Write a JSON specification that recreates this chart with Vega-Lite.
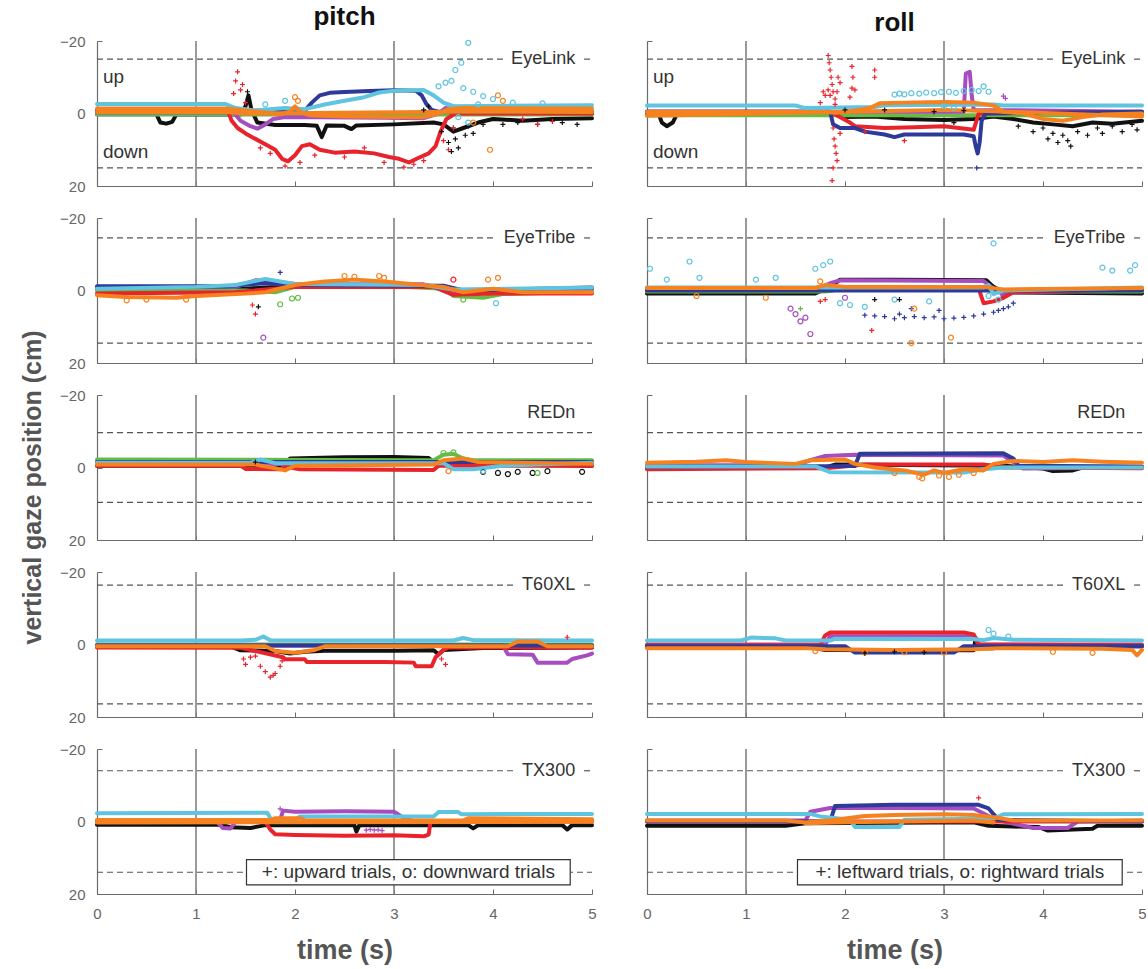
{
"$schema":"https://vega.github.io/schema/vega-lite/v6.json",
"padding":{"left":20,"top":4,"right":0,"bottom":5},
"columns":2,
"spacing":{"row":32,"column":55},
"bounds":"flush",
"align":"each",
"config":{"font":"Liberation Sans","view":{"stroke":null},
"axis":{"grid":false,"domainColor":"#6b6b6b","domainWidth":1.2,"tickColor":"#6b6b6b","tickSize":-5,"tickWidth":1,"labelColor":"#666","labelFont":"Liberation Sans","labelFontSize":15,"labelPadding":17,"labelFlush":false,"titleFont":"Liberation Sans","titleFontWeight":"bold","titleColor":"#555"},
"title":{"font":"Liberation Sans","fontSize":26,"fontWeight":"bold","color":"#111","offset":0}},
"concat":[
{"title":"pitch","width":495,"height":145,
"data":{"values":[
{"s":1,"t":0,"y":0.2},{"s":1,"t":0.6,"y":0.2},{"s":1,"t":0.64,"y":2.5},{"s":1,"t":0.7,"y":2.8},{"s":1,"t":0.76,"y":2.3},{"s":1,"t":0.8,"y":0.3},{"s":1,"t":1.45,"y":0.3},{"s":1,"t":1.5,"y":-2},{"s":1,"t":1.53,"y":-5},{"s":1,"t":1.56,"y":-1},{"s":1,"t":1.62,"y":2.5},{"s":1,"t":1.8,"y":3.2},{"s":1,"t":2.1,"y":3.2},{"s":1,"t":2.22,"y":3.4},{"s":1,"t":2.27,"y":6.5},{"s":1,"t":2.32,"y":3.3},{"s":1,"t":2.5,"y":3.4},{"s":1,"t":2.57,"y":4.3},{"s":1,"t":2.62,"y":3.3},{"s":1,"t":3,"y":3},{"s":1,"t":3.4,"y":2.5},{"s":1,"t":3.5,"y":3},{"s":1,"t":3.6,"y":5},{"s":1,"t":3.7,"y":4},{"s":1,"t":3.85,"y":2.5},{"s":1,"t":4,"y":1.5},{"s":1,"t":4.3,"y":2},{"s":1,"t":4.6,"y":1.5},{"s":1,"t":5,"y":1.3},
{"s":2,"t":0,"y":0.3},{"s":2,"t":5,"y":0.3},
{"s":3,"t":0,"y":-0.3},{"s":3,"t":1.38,"y":-0.3},{"s":3,"t":1.45,"y":2},{"s":3,"t":1.55,"y":3.5},{"s":3,"t":1.62,"y":4.2},{"s":3,"t":1.7,"y":3},{"s":3,"t":1.78,"y":1.5},{"s":3,"t":1.9,"y":1},{"s":3,"t":2.9,"y":1.2},{"s":3,"t":3.3,"y":1.3},{"s":3,"t":3.45,"y":0},{"s":3,"t":3.52,"y":-1.5},{"s":3,"t":3.6,"y":-1.2},{"s":3,"t":3.7,"y":-0.3},{"s":3,"t":5,"y":-0.3},
{"s":4,"t":0,"y":-0.8},{"s":4,"t":1.32,"y":-0.8},{"s":4,"t":1.36,"y":2},{"s":4,"t":1.42,"y":4},{"s":4,"t":1.5,"y":5.5},{"s":4,"t":1.6,"y":7},{"s":4,"t":1.7,"y":8.5},{"s":4,"t":1.8,"y":10},{"s":4,"t":1.87,"y":12.5},{"s":4,"t":1.93,"y":13.2},{"s":4,"t":2,"y":11.5},{"s":4,"t":2.07,"y":9},{"s":4,"t":2.15,"y":8.5},{"s":4,"t":2.25,"y":10},{"s":4,"t":2.4,"y":10.8},{"s":4,"t":2.6,"y":10.5},{"s":4,"t":2.8,"y":11},{"s":4,"t":2.95,"y":12},{"s":4,"t":3.05,"y":12.5},{"s":4,"t":3.15,"y":13.5},{"s":4,"t":3.25,"y":12.2},{"s":4,"t":3.35,"y":11},{"s":4,"t":3.42,"y":9},{"s":4,"t":3.47,"y":5},{"s":4,"t":3.53,"y":1.5},{"s":4,"t":3.62,"y":0},{"s":4,"t":5,"y":0},
{"s":5,"t":0,"y":-0.5},{"s":5,"t":2.1,"y":-0.8},{"s":5,"t":2.17,"y":-3},{"s":5,"t":2.25,"y":-5},{"s":5,"t":2.35,"y":-5.7},{"s":5,"t":2.5,"y":-5.9},{"s":5,"t":2.75,"y":-6.2},{"s":5,"t":3,"y":-6.4},{"s":5,"t":3.22,"y":-6.3},{"s":5,"t":3.28,"y":-5},{"s":5,"t":3.33,"y":-2.5},{"s":5,"t":3.38,"y":-1},{"s":5,"t":3.45,"y":-0.5},{"s":5,"t":5,"y":-0.5},
{"s":6,"t":0,"y":-2.6},{"s":6,"t":1.3,"y":-2.6},{"s":6,"t":1.4,"y":-1.5},{"s":6,"t":1.6,"y":-0.8},{"s":6,"t":1.9,"y":-1.5},{"s":6,"t":2.1,"y":-1.2},{"s":6,"t":2.3,"y":-2.5},{"s":6,"t":2.5,"y":-3.5},{"s":6,"t":2.7,"y":-4.5},{"s":6,"t":2.85,"y":-5.8},{"s":6,"t":3,"y":-6.3},{"s":6,"t":3.3,"y":-6.5},{"s":6,"t":3.4,"y":-5},{"s":6,"t":3.5,"y":-3},{"s":6,"t":3.6,"y":-2},{"s":6,"t":5,"y":-2.3},
{"s":7,"t":0,"y":-1.4},{"s":7,"t":1.3,"y":-1.4},{"s":7,"t":1.5,"y":-0.8},{"s":7,"t":1.7,"y":-0.3},{"s":7,"t":1.85,"y":0.2},{"s":7,"t":1.95,"y":-0.5},{"s":7,"t":2,"y":-2},{"s":7,"t":2.05,"y":-0.5},{"s":7,"t":2.15,"y":0.5},{"s":7,"t":2.5,"y":0.8},{"s":7,"t":3,"y":1},{"s":7,"t":3.3,"y":1},{"s":7,"t":3.45,"y":0},{"s":7,"t":3.55,"y":-1.2},{"s":7,"t":3.7,"y":-1.5},{"s":7,"t":5,"y":-1.4},
{"s":7,"g":"b","t":0,"y":-0.4},{"s":7,"g":"b","t":1.3,"y":-0.4},{"s":7,"g":"b","t":1.5,"y":0},{"s":7,"g":"b","t":3.6,"y":-0.5},{"s":7,"g":"b","t":5,"y":-0.4},
{"s":1,"t":3.55,"y":8,"m":"p"},{"s":1,"t":3.58,"y":10.5,"m":"p"},{"s":1,"t":3.62,"y":7,"m":"p"},{"s":1,"t":3.65,"y":9.5,"m":"p"},{"s":1,"t":3.6,"y":4,"m":"p"},{"s":1,"t":3.72,"y":6,"m":"p"},{"s":1,"t":3.75,"y":3.5,"m":"p"},{"s":1,"t":3.48,"y":5,"m":"p"},{"s":1,"t":3.8,"y":5.5,"m":"p"},{"s":1,"t":3.9,"y":3,"m":"p"},{"s":1,"t":4.1,"y":3,"m":"p"},{"s":1,"t":4.25,"y":2.5,"m":"p"},{"s":1,"t":4.45,"y":3,"m":"p"},{"s":1,"t":4.7,"y":2.5,"m":"p"},{"s":1,"t":4.85,"y":3,"m":"p"},{"s":1,"t":3.3,"y":-1,"m":"p"},{"s":1,"t":3.35,"y":-2,"m":"p"},{"s":1,"t":1.52,"y":-6,"m":"p"},
{"s":4,"t":1.38,"y":-5.5,"m":"p"},{"s":4,"t":1.4,"y":-9,"m":"p"},{"s":4,"t":1.42,"y":-11.5,"m":"p"},{"s":4,"t":1.45,"y":-6.5,"m":"p"},{"s":4,"t":1.47,"y":-8,"m":"p"},{"s":4,"t":1.5,"y":-3,"m":"p"},{"s":4,"t":1.65,"y":9.5,"m":"p"},{"s":4,"t":1.75,"y":11,"m":"p"},{"s":4,"t":1.9,"y":14.5,"m":"p"},{"s":4,"t":2.05,"y":13.5,"m":"p"},{"s":4,"t":2.2,"y":11.5,"m":"p"},{"s":4,"t":2.5,"y":12,"m":"p"},{"s":4,"t":2.7,"y":9.5,"m":"p"},{"s":4,"t":2.9,"y":13.5,"m":"p"},{"s":4,"t":3.1,"y":14.8,"m":"p"},{"s":4,"t":3.2,"y":14,"m":"p"},{"s":4,"t":3.3,"y":13,"m":"p"},{"s":4,"t":3.5,"y":7.5,"m":"p"},{"s":4,"t":3.55,"y":10,"m":"p"},{"s":4,"t":3.6,"y":4,"m":"p"},{"s":4,"t":4.3,"y":1.5,"m":"p"},{"s":4,"t":4.45,"y":3,"m":"p"},{"s":4,"t":4.6,"y":2.2,"m":"p"},
{"s":6,"t":3.75,"y":-19.5,"m":"o"},{"s":6,"t":3.68,"y":-14,"m":"o"},{"s":6,"t":3.62,"y":-12,"m":"o"},{"s":6,"t":3.58,"y":-9,"m":"o"},{"s":6,"t":3.52,"y":-8.5,"m":"o"},{"s":6,"t":3.7,"y":-7,"m":"o"},{"s":6,"t":3.8,"y":-6,"m":"o"},{"s":6,"t":3.9,"y":-4.8,"m":"o"},{"s":6,"t":4,"y":-4,"m":"o"},{"s":6,"t":3.45,"y":-7.5,"m":"o"},{"s":6,"t":1.7,"y":-2.5,"m":"o"},{"s":6,"t":1.9,"y":-3.5,"m":"o"},{"s":6,"t":3.85,"y":-2.5,"m":"o"},{"s":6,"t":4.2,"y":-3,"m":"o"},{"s":6,"t":4.5,"y":-2.8,"m":"o"},{"s":6,"t":3.65,"y":1,"m":"o"},{"s":6,"t":3.75,"y":2.5,"m":"o"},
{"s":7,"t":2,"y":-4.5,"m":"o"},{"s":7,"t":2.03,"y":-3.5,"m":"o"},{"s":7,"t":3.97,"y":10,"m":"o"},{"s":7,"t":4.05,"y":-5,"m":"o"},{"s":7,"t":4.1,"y":-3.5,"m":"o"},{"s":7,"t":3.8,"y":2.5,"m":"o"}
]},
"layer":[
{"data":{"values":[{"t":1},{"t":3}]},"mark":{"type":"rule","color":"#808080","strokeWidth":1.6},"encoding":{"x":{"field":"t","type":"quantitative","scale":{"domain":[0,5],"nice":false,"zero":false},"axis":{"values":[0,1,2,3,4,5],"labels":false,"title":null}}}},
{"data":{"values":[{"t":0,"t2":4.1,"y":-15},{"t":4.92,"t2":5,"y":-15},{"t":0,"t2":5,"y":15}]},"mark":{"type":"rule","color":"#555","strokeWidth":1.2,"strokeDash":[6,4]},"encoding":{"x":{"field":"t","type":"quantitative"},"x2":{"field":"t2"},"y":{"field":"y","type":"quantitative","scale":{"domain":[-20,20],"reverse":true,"nice":false,"zero":false},"axis":{"values":[-20,0,20],"title":null}}}},
{"transform":[{"filter":"!datum.m"}],"mark":{"type":"line","strokeWidth":4,"strokeCap":"round","strokeJoin":"round"},"encoding":{"x":{"field":"t","type":"quantitative"},"y":{"field":"y","type":"quantitative"},"color":{"field":"s","type":"nominal","scale":{"domain":[1,2,3,4,5,6,7],"range":["#111111","#66bb44","#a64dbf","#e8232b","#2e3a9a","#5ec4e0","#f5821f"]},"legend":null},"detail":{"field":"g"}}},
{"transform":[{"filter":"datum.m"}],"mark":{"type":"point","filled":false,"size":25,"strokeWidth":1.2,"opacity":1},"encoding":{"x":{"field":"t","type":"quantitative"},"y":{"field":"y","type":"quantitative"},"color":{"field":"s","type":"nominal","scale":{"domain":[1,2,3,4,5,6,7],"range":["#111111","#66bb44","#a64dbf","#e8232b","#2e3a9a","#5ec4e0","#f5821f"]},"legend":null},"shape":{"field":"m","type":"nominal","scale":{"domain":["p","o"],"range":["M-1,0L1,0M0,-1L0,1","circle"]},"legend":null}}},
{"data":{"values":[{}]},"mark":{"type":"text","align":"right","baseline":"middle","fontSize":18,"color":"#333"},"encoding":{"x":{"datum":4.83},"y":{"datum":-15},"text":{"value":"EyeLink"}}},
{"data":{"values":[{}]},"mark":{"type":"text","align":"left","baseline":"middle","fontSize":19,"color":"#333"},"encoding":{"x":{"datum":0.06},"y":{"datum":-10},"text":{"value":"up"}}},
{"data":{"values":[{}]},"mark":{"type":"text","align":"left","baseline":"middle","fontSize":19,"color":"#333"},"encoding":{"x":{"datum":0.06},"y":{"datum":10.5},"text":{"value":"down"}}}
]},
{"title":"roll","width":495,"height":145,
"data":{"values":[
{"s":1,"t":0,"y":0.3},{"s":1,"t":0.12,"y":0.3},{"s":1,"t":0.15,"y":2.5},{"s":1,"t":0.2,"y":3.5},{"s":1,"t":0.26,"y":2.5},{"s":1,"t":0.3,"y":0.3},{"s":1,"t":1.9,"y":0.3},{"s":1,"t":2,"y":1},{"s":1,"t":2.3,"y":0.8},{"s":1,"t":2.6,"y":1.5},{"s":1,"t":3,"y":1.8},{"s":1,"t":3.3,"y":1.5},{"s":1,"t":3.5,"y":0.8},{"s":1,"t":3.7,"y":1.5},{"s":1,"t":3.9,"y":2.5},{"s":1,"t":4.1,"y":3},{"s":1,"t":4.3,"y":3.5},{"s":1,"t":4.5,"y":2.5},{"s":1,"t":4.7,"y":2.8},{"s":1,"t":5,"y":2},
{"s":2,"t":0,"y":0.5},{"s":2,"t":5,"y":0.5},
{"s":3,"t":0,"y":-0.5},{"s":3,"t":3.2,"y":-0.5},{"s":3,"t":3.22,"y":-11},{"s":3,"t":3.26,"y":-11.5},{"s":3,"t":3.28,"y":-5},{"s":3,"t":3.3,"y":-1},{"s":3,"t":5,"y":-0.5},
{"s":4,"t":0,"y":-0.5},{"s":4,"t":1.85,"y":-0.5},{"s":4,"t":2.05,"y":2.5},{"s":4,"t":2.1,"y":3.5},{"s":4,"t":2.4,"y":4},{"s":4,"t":2.7,"y":3.8},{"s":4,"t":3,"y":3.5},{"s":4,"t":3.3,"y":4.5},{"s":4,"t":3.35,"y":0},{"s":4,"t":5,"y":-0.5},
{"s":5,"t":0,"y":-0.5},{"s":5,"t":1.85,"y":-0.5},{"s":5,"t":1.88,"y":3},{"s":5,"t":1.95,"y":4},{"s":5,"t":2.1,"y":4},{"s":5,"t":2.2,"y":5},{"s":5,"t":2.4,"y":5.8},{"s":5,"t":2.5,"y":6.5},{"s":5,"t":2.6,"y":5.8},{"s":5,"t":2.9,"y":5.8},{"s":5,"t":3.2,"y":5.8},{"s":5,"t":3.3,"y":6.3},{"s":5,"t":3.32,"y":9},{"s":5,"t":3.34,"y":11},{"s":5,"t":3.36,"y":8},{"s":5,"t":3.38,"y":2},{"s":5,"t":3.42,"y":0},{"s":5,"t":5,"y":-0.5},
{"s":6,"t":0,"y":-2.2},{"s":6,"t":1.5,"y":-2.2},{"s":6,"t":1.6,"y":-1.5},{"s":6,"t":2.3,"y":-1.8},{"s":6,"t":2.4,"y":-2.3},{"s":6,"t":3.5,"y":-2.5},{"s":6,"t":3.6,"y":-2.2},{"s":6,"t":5,"y":-2.2},
{"s":7,"t":0,"y":-0.4},{"s":7,"t":1.8,"y":-0.4},{"s":7,"t":1.9,"y":-0.2},{"s":7,"t":2.1,"y":-0.8},{"s":7,"t":2.25,"y":-1.5},{"s":7,"t":2.35,"y":-2.8},{"s":7,"t":2.6,"y":-3},{"s":7,"t":3,"y":-3.2},{"s":7,"t":3.3,"y":-3},{"s":7,"t":3.5,"y":-2.2},{"s":7,"t":3.6,"y":-0.5},{"s":7,"t":3.8,"y":0},{"s":7,"t":4,"y":1.5},{"s":7,"t":4.2,"y":2},{"s":7,"t":4.4,"y":1},{"s":7,"t":4.6,"y":0.3},{"s":7,"t":5,"y":0},
{"s":7,"g":"b","t":0,"y":0.6},{"s":7,"g":"b","t":2.3,"y":-0.6},{"s":7,"g":"b","t":3,"y":-1},{"s":7,"g":"b","t":3.5,"y":-0.6},{"s":7,"g":"b","t":5,"y":0.8},
{"s":1,"t":3.75,"y":3.5,"m":"p"},{"s":1,"t":3.9,"y":5,"m":"p"},{"s":1,"t":4,"y":4,"m":"p"},{"s":1,"t":4.05,"y":7,"m":"p"},{"s":1,"t":4.1,"y":5.5,"m":"p"},{"s":1,"t":4.15,"y":8,"m":"p"},{"s":1,"t":4.2,"y":6,"m":"p"},{"s":1,"t":4.25,"y":7.5,"m":"p"},{"s":1,"t":4.28,"y":9,"m":"p"},{"s":1,"t":4.35,"y":5,"m":"p"},{"s":1,"t":4.45,"y":6,"m":"p"},{"s":1,"t":4.55,"y":4,"m":"p"},{"s":1,"t":4.6,"y":5.5,"m":"p"},{"s":1,"t":4.7,"y":3.5,"m":"p"},{"s":1,"t":4.8,"y":5,"m":"p"},{"s":1,"t":4.9,"y":3,"m":"p"},{"s":1,"t":4.95,"y":4.5,"m":"p"},{"s":1,"t":2,"y":-1,"m":"p"},{"s":1,"t":2.4,"y":-1,"m":"p"},{"s":1,"t":2.9,"y":-0.5,"m":"p"},{"s":1,"t":3.1,"y":2.5,"m":"p"},{"s":1,"t":3.2,"y":-0.8,"m":"p"},
{"s":3,"t":3.6,"y":-4.8,"m":"p"},{"s":3,"t":3.62,"y":-4.2,"m":"p"},
{"s":4,"t":1.83,"y":-16,"m":"p"},{"s":4,"t":1.84,"y":-14,"m":"p"},{"s":4,"t":1.85,"y":-12,"m":"p"},{"s":4,"t":1.86,"y":-10,"m":"p"},{"s":4,"t":1.87,"y":-8,"m":"p"},{"s":4,"t":1.88,"y":-6,"m":"p"},{"s":4,"t":1.85,"y":-5,"m":"p"},{"s":4,"t":1.83,"y":-6.5,"m":"p"},{"s":4,"t":1.9,"y":-4,"m":"p"},{"s":4,"t":1.92,"y":-6,"m":"p"},{"s":4,"t":1.95,"y":-8.5,"m":"p"},{"s":4,"t":1.93,"y":-10,"m":"p"},{"s":4,"t":1.88,"y":4,"m":"p"},{"s":4,"t":1.89,"y":7,"m":"p"},{"s":4,"t":1.9,"y":9,"m":"p"},{"s":4,"t":1.91,"y":11,"m":"p"},{"s":4,"t":1.92,"y":13,"m":"p"},{"s":4,"t":1.88,"y":15,"m":"p"},{"s":4,"t":1.87,"y":18.5,"m":"p"},{"s":4,"t":1.95,"y":5.5,"m":"p"},{"s":4,"t":1.8,"y":-5,"m":"p"},{"s":4,"t":1.75,"y":-3,"m":"p"},{"s":4,"t":1.78,"y":-6,"m":"p"},{"s":4,"t":2.07,"y":-13,"m":"p"},{"s":4,"t":2.08,"y":-10,"m":"p"},{"s":4,"t":2.07,"y":-7,"m":"p"},{"s":4,"t":2.1,"y":-6.5,"m":"p"},{"s":4,"t":2.05,"y":-4.5,"m":"p"},{"s":4,"t":2.3,"y":-12,"m":"p"},{"s":4,"t":2.3,"y":-10,"m":"p"},{"s":4,"t":2.6,"y":7.5,"m":"p"},{"s":4,"t":2.2,"y":5,"m":"p"},{"s":4,"t":1.9,"y":-2.5,"m":"p"},
{"s":5,"t":3.33,"y":15,"m":"p"},
{"s":6,"t":2.5,"y":-5.2,"m":"o"},{"s":6,"t":2.55,"y":-5.5,"m":"o"},{"s":6,"t":2.6,"y":-5.3,"m":"o"},{"s":6,"t":2.67,"y":-5.6,"m":"o"},{"s":6,"t":2.75,"y":-5.5,"m":"o"},{"s":6,"t":2.82,"y":-5.8,"m":"o"},{"s":6,"t":2.9,"y":-5.6,"m":"o"},{"s":6,"t":2.97,"y":-5.9,"m":"o"},{"s":6,"t":3.05,"y":-6,"m":"o"},{"s":6,"t":3.12,"y":-5.7,"m":"o"},{"s":6,"t":3.2,"y":-6.2,"m":"o"},{"s":6,"t":3.28,"y":-6.5,"m":"o"},{"s":6,"t":3.35,"y":-6.2,"m":"o"},{"s":6,"t":3.4,"y":-7.5,"m":"o"},{"s":6,"t":3.45,"y":-6,"m":"o"},{"s":6,"t":3,"y":-2,"m":"o"},{"s":6,"t":3.1,"y":-1.5,"m":"o"}
]},
"layer":[
{"data":{"values":[{"t":1},{"t":3}]},"mark":{"type":"rule","color":"#808080","strokeWidth":1.6},"encoding":{"x":{"field":"t","type":"quantitative","scale":{"domain":[0,5],"nice":false,"zero":false},"axis":{"values":[0,1,2,3,4,5],"labels":false,"title":null}}}},
{"data":{"values":[{"t":0,"t2":4.1,"y":-15},{"t":4.92,"t2":5,"y":-15},{"t":0,"t2":5,"y":15}]},"mark":{"type":"rule","color":"#555","strokeWidth":1.2,"strokeDash":[6,4]},"encoding":{"x":{"field":"t","type":"quantitative"},"x2":{"field":"t2"},"y":{"field":"y","type":"quantitative","scale":{"domain":[-20,20],"reverse":true,"nice":false,"zero":false},"axis":{"values":[-20,0,20],"labels":false,"title":null}}}},
{"transform":[{"filter":"!datum.m"}],"mark":{"type":"line","strokeWidth":4,"strokeCap":"round","strokeJoin":"round"},"encoding":{"x":{"field":"t","type":"quantitative"},"y":{"field":"y","type":"quantitative"},"color":{"field":"s","type":"nominal","scale":{"domain":[1,2,3,4,5,6,7],"range":["#111111","#66bb44","#a64dbf","#e8232b","#2e3a9a","#5ec4e0","#f5821f"]},"legend":null},"detail":{"field":"g"}}},
{"transform":[{"filter":"datum.m"}],"mark":{"type":"point","filled":false,"size":25,"strokeWidth":1.2,"opacity":1},"encoding":{"x":{"field":"t","type":"quantitative"},"y":{"field":"y","type":"quantitative"},"color":{"field":"s","type":"nominal","scale":{"domain":[1,2,3,4,5,6,7],"range":["#111111","#66bb44","#a64dbf","#e8232b","#2e3a9a","#5ec4e0","#f5821f"]},"legend":null},"shape":{"field":"m","type":"nominal","scale":{"domain":["p","o"],"range":["M-1,0L1,0M0,-1L0,1","circle"]},"legend":null}}},
{"data":{"values":[{}]},"mark":{"type":"text","align":"right","baseline":"middle","fontSize":18,"color":"#333"},"encoding":{"x":{"datum":4.83},"y":{"datum":-15},"text":{"value":"EyeLink"}}},
{"data":{"values":[{}]},"mark":{"type":"text","align":"left","baseline":"middle","fontSize":19,"color":"#333"},"encoding":{"x":{"datum":0.06},"y":{"datum":-10},"text":{"value":"up"}}},
{"data":{"values":[{}]},"mark":{"type":"text","align":"left","baseline":"middle","fontSize":19,"color":"#333"},"encoding":{"x":{"datum":0.06},"y":{"datum":10.5},"text":{"value":"down"}}}
]},
{"width":495,"height":145,
"data":{"values":[
{"s":1,"t":0,"y":-0.3},{"s":1,"t":1.4,"y":-0.3},{"s":1,"t":1.8,"y":-1},{"s":1,"t":2,"y":-1.5},{"s":1,"t":3,"y":-1.5},{"s":1,"t":3.5,"y":-1},{"s":1,"t":3.6,"y":0.3},{"s":1,"t":4,"y":0.5},{"s":1,"t":4.5,"y":0},{"s":1,"t":5,"y":-0.5},
{"s":2,"t":0,"y":0},{"s":2,"t":1.5,"y":0},{"s":2,"t":1.8,"y":0.5},{"s":2,"t":2,"y":-1},{"s":2,"t":3,"y":-1.2},{"s":2,"t":3.5,"y":-0.5},{"s":2,"t":3.6,"y":1.5},{"s":2,"t":3.9,"y":2},{"s":2,"t":4.1,"y":1},{"s":2,"t":5,"y":0.3},
{"s":3,"t":0,"y":-0.8},{"s":3,"t":1.4,"y":-1},{"s":3,"t":1.6,"y":-2.8},{"s":3,"t":1.8,"y":-2.5},{"s":3,"t":2,"y":-1.8},{"s":3,"t":3.3,"y":-1.7},{"s":3,"t":3.6,"y":0.5},{"s":3,"t":4,"y":0},{"s":3,"t":5,"y":-0.5},
{"s":4,"t":0,"y":0.8},{"s":4,"t":1.4,"y":0.5},{"s":4,"t":2,"y":-1},{"s":4,"t":3.4,"y":-1},{"s":4,"t":3.6,"y":1.2},{"s":4,"t":4,"y":0.8},{"s":4,"t":5,"y":0.8},
{"s":5,"t":0,"y":-1.2},{"s":5,"t":1.3,"y":-1.2},{"s":5,"t":1.7,"y":-2},{"s":5,"t":2,"y":-1.5},{"s":5,"t":3.5,"y":-1.3},{"s":5,"t":3.7,"y":0},{"s":5,"t":5,"y":-0.8},
{"s":6,"t":0,"y":-0.5},{"s":6,"t":1,"y":-1},{"s":6,"t":1.4,"y":-1.5},{"s":6,"t":1.7,"y":-3.2},{"s":6,"t":1.85,"y":-2.5},{"s":6,"t":2,"y":-1.8},{"s":6,"t":3.3,"y":-1.5},{"s":6,"t":3.6,"y":-0.3},{"s":6,"t":5,"y":-0.8},
{"s":7,"t":0,"y":1.3},{"s":7,"t":0.3,"y":1.8},{"s":7,"t":0.8,"y":2},{"s":7,"t":1,"y":1.5},{"s":7,"t":1.4,"y":1},{"s":7,"t":1.7,"y":0.5},{"s":7,"t":2,"y":-1.5},{"s":7,"t":2.3,"y":-2.5},{"s":7,"t":2.6,"y":-3},{"s":7,"t":2.9,"y":-2.5},{"s":7,"t":3.2,"y":-1.7},{"s":7,"t":3.5,"y":-1},{"s":7,"t":3.7,"y":0.5},{"s":7,"t":4,"y":-0.5},{"s":7,"t":4.3,"y":0.5},{"s":7,"t":5,"y":0.5},
{"s":4,"t":1.57,"y":4,"m":"p"},{"s":4,"t":1.6,"y":6.5,"m":"p"},{"s":1,"t":1.63,"y":4.5,"m":"p"},{"s":3,"t":1.68,"y":13,"m":"o"},{"s":5,"t":1.85,"y":-5,"m":"p"},{"s":2,"t":1.85,"y":3.8,"m":"o"},{"s":2,"t":1.97,"y":2.2,"m":"o"},{"s":2,"t":2.03,"y":2,"m":"o"},{"s":7,"t":2.5,"y":-4,"m":"o"},{"s":7,"t":2.6,"y":-3.8,"m":"o"},{"s":7,"t":2.85,"y":-4,"m":"o"},{"s":7,"t":2.9,"y":-3.5,"m":"o"},{"s":7,"t":3.95,"y":-3,"m":"o"},{"s":7,"t":4.05,"y":-3.5,"m":"o"},{"s":7,"t":0.3,"y":2.7,"m":"o"},{"s":7,"t":0.5,"y":2.5,"m":"o"},{"s":7,"t":0.9,"y":2.5,"m":"o"},{"s":4,"t":3.6,"y":-3,"m":"o"},{"s":6,"t":4.03,"y":3.5,"m":"o"},{"s":2,"t":3.7,"y":2.5,"m":"o"}
]},
"layer":[
{"data":{"values":[{"t":1},{"t":3}]},"mark":{"type":"rule","color":"#808080","strokeWidth":1.6},"encoding":{"x":{"field":"t","type":"quantitative","scale":{"domain":[0,5],"nice":false,"zero":false},"axis":{"values":[0,1,2,3,4,5],"labels":false,"title":null}}}},
{"data":{"values":[{"t":0,"t2":4.0,"y":-14.5},{"t":4.92,"t2":5,"y":-14.5},{"t":0,"t2":5,"y":14.5}]},"mark":{"type":"rule","color":"#555","strokeWidth":1.2,"strokeDash":[6,4]},"encoding":{"x":{"field":"t","type":"quantitative"},"x2":{"field":"t2"},"y":{"field":"y","type":"quantitative","scale":{"domain":[-20,20],"reverse":true,"nice":false,"zero":false},"axis":{"values":[-20,0,20],"title":null}}}},
{"transform":[{"filter":"!datum.m"}],"mark":{"type":"line","strokeWidth":4,"strokeCap":"round","strokeJoin":"round"},"encoding":{"x":{"field":"t","type":"quantitative"},"y":{"field":"y","type":"quantitative"},"color":{"field":"s","type":"nominal","scale":{"domain":[1,2,3,4,5,6,7],"range":["#111111","#66bb44","#a64dbf","#e8232b","#2e3a9a","#5ec4e0","#f5821f"]},"legend":null},"detail":{"field":"g"}}},
{"transform":[{"filter":"datum.m"}],"mark":{"type":"point","filled":false,"size":25,"strokeWidth":1.2,"opacity":1},"encoding":{"x":{"field":"t","type":"quantitative"},"y":{"field":"y","type":"quantitative"},"color":{"field":"s","type":"nominal","scale":{"domain":[1,2,3,4,5,6,7],"range":["#111111","#66bb44","#a64dbf","#e8232b","#2e3a9a","#5ec4e0","#f5821f"]},"legend":null},"shape":{"field":"m","type":"nominal","scale":{"domain":["p","o"],"range":["M-1,0L1,0M0,-1L0,1","circle"]},"legend":null}}},
{"data":{"values":[{}]},"mark":{"type":"text","align":"right","baseline":"middle","fontSize":18,"color":"#333"},"encoding":{"x":{"datum":4.83},"y":{"datum":-14.5},"text":{"value":"EyeTribe"}}}
]},
{"width":495,"height":145,
"data":{"values":[
{"s":1,"t":0,"y":0.8},{"s":1,"t":1.7,"y":0.8},{"s":1,"t":1.85,"y":-1},{"s":1,"t":1.95,"y":-3},{"s":1,"t":2.5,"y":-3},{"s":1,"t":3.43,"y":-2.8},{"s":1,"t":3.5,"y":-1},{"s":1,"t":3.6,"y":0.5},{"s":1,"t":5,"y":0.8},
{"s":2,"t":0,"y":0.3},{"s":2,"t":1.8,"y":0.3},{"s":2,"t":2,"y":-0.5},{"s":2,"t":3.4,"y":-0.3},{"s":2,"t":3.5,"y":0.3},{"s":2,"t":5,"y":0.3},
{"s":3,"t":0,"y":-0.3},{"s":3,"t":1.7,"y":-0.3},{"s":3,"t":1.85,"y":-2},{"s":3,"t":1.95,"y":-2.8},{"s":3,"t":3.4,"y":-2.6},{"s":3,"t":3.5,"y":-0.5},{"s":3,"t":3.55,"y":0},{"s":3,"t":3.6,"y":1.5},{"s":3,"t":3.7,"y":0.5},{"s":3,"t":5,"y":-0.3},
{"s":4,"t":0,"y":-0.5},{"s":4,"t":3.35,"y":-0.5},{"s":4,"t":3.4,"y":3.5},{"s":4,"t":3.5,"y":3},{"s":4,"t":3.6,"y":2},{"s":4,"t":3.7,"y":0.5},{"s":4,"t":5,"y":-0.5},
{"s":5,"t":0,"y":0},{"s":5,"t":5,"y":0},
{"s":6,"t":0,"y":-0.8},{"s":6,"t":3.4,"y":-0.8},{"s":6,"t":3.45,"y":-1.5},{"s":6,"t":3.5,"y":1},{"s":6,"t":3.6,"y":0},{"s":6,"t":5,"y":-0.8},
{"s":7,"t":0,"y":-0.7},{"s":7,"t":1.7,"y":-0.7},{"s":7,"t":1.8,"y":-1.5},{"s":7,"t":2,"y":-1},{"s":7,"t":3.4,"y":-1},{"s":7,"t":3.6,"y":-0.3},{"s":7,"t":5,"y":-0.7},
{"s":5,"t":2.2,"y":6.8,"m":"p"},{"s":5,"t":2.3,"y":7,"m":"p"},{"s":5,"t":2.4,"y":7.2,"m":"p"},{"s":5,"t":2.5,"y":7.8,"m":"p"},{"s":5,"t":2.55,"y":6.5,"m":"p"},{"s":5,"t":2.6,"y":7.5,"m":"p"},{"s":5,"t":2.7,"y":7.2,"m":"p"},{"s":5,"t":2.8,"y":7.5,"m":"p"},{"s":5,"t":2.9,"y":7.3,"m":"p"},{"s":5,"t":3,"y":7.8,"m":"p"},{"s":5,"t":3.1,"y":7.6,"m":"p"},{"s":5,"t":3.2,"y":7.4,"m":"p"},{"s":5,"t":3.3,"y":7,"m":"p"},{"s":5,"t":3.4,"y":6.5,"m":"p"},{"s":5,"t":3.5,"y":6,"m":"p"},{"s":5,"t":3.55,"y":5.5,"m":"p"},{"s":5,"t":3.6,"y":5,"m":"p"},{"s":5,"t":3.65,"y":4.5,"m":"p"},{"s":5,"t":3.7,"y":3.5,"m":"p"},{"s":5,"t":2.67,"y":5,"m":"p"},{"s":5,"t":2.95,"y":5.5,"m":"p"},
{"s":6,"t":0.03,"y":-6,"m":"o"},{"s":6,"t":0.43,"y":-8,"m":"o"},{"s":6,"t":0.53,"y":-3.5,"m":"o"},{"s":6,"t":1.1,"y":-3,"m":"o"},{"s":6,"t":1.3,"y":-3.5,"m":"o"},{"s":6,"t":1.7,"y":-6,"m":"o"},{"s":6,"t":1.78,"y":-7,"m":"o"},{"s":6,"t":1.85,"y":-8,"m":"o"},{"s":6,"t":3.5,"y":-13,"m":"o"},{"s":6,"t":4.6,"y":-6.3,"m":"o"},{"s":6,"t":4.7,"y":-5.5,"m":"o"},{"s":6,"t":4.88,"y":-5.5,"m":"o"},{"s":6,"t":4.93,"y":-7,"m":"o"},{"s":6,"t":1.95,"y":3.5,"m":"o"},{"s":6,"t":2.05,"y":4,"m":"o"},{"s":6,"t":2.2,"y":4.5,"m":"o"},{"s":6,"t":2.5,"y":2.5,"m":"o"},{"s":6,"t":2.85,"y":3,"m":"o"},{"s":6,"t":0.2,"y":-3,"m":"o"},{"s":6,"t":3.45,"y":1.5,"m":"o"},{"s":6,"t":3.55,"y":2.5,"m":"o"},
{"s":7,"t":1.75,"y":-2.5,"m":"o"},{"s":7,"t":2.7,"y":5,"m":"o"},{"s":7,"t":3.07,"y":13,"m":"o"},{"s":7,"t":2.67,"y":14.5,"m":"o"},{"s":7,"t":1.2,"y":2,"m":"o"},{"s":7,"t":0.5,"y":1.5,"m":"o"},
{"s":3,"t":1.45,"y":5,"m":"o"},{"s":3,"t":1.5,"y":6.5,"m":"o"},{"s":3,"t":1.55,"y":8.5,"m":"o"},{"s":3,"t":1.6,"y":7.5,"m":"o"},{"s":3,"t":1.65,"y":12,"m":"o"},{"s":3,"t":2,"y":2,"m":"o"},
{"s":4,"t":2.27,"y":11,"m":"p"},{"s":4,"t":1.75,"y":3,"m":"p"},{"s":4,"t":1.8,"y":2.5,"m":"p"},{"s":1,"t":2.3,"y":2.5,"m":"p"},{"s":1,"t":2.55,"y":2.5,"m":"p"},{"s":2,"t":1.55,"y":5,"m":"p"}
]},
"layer":[
{"data":{"values":[{"t":1},{"t":3}]},"mark":{"type":"rule","color":"#808080","strokeWidth":1.6},"encoding":{"x":{"field":"t","type":"quantitative","scale":{"domain":[0,5],"nice":false,"zero":false},"axis":{"values":[0,1,2,3,4,5],"labels":false,"title":null}}}},
{"data":{"values":[{"t":0,"t2":4.0,"y":-14.5},{"t":4.92,"t2":5,"y":-14.5},{"t":0,"t2":5,"y":14.5}]},"mark":{"type":"rule","color":"#555","strokeWidth":1.2,"strokeDash":[6,4]},"encoding":{"x":{"field":"t","type":"quantitative"},"x2":{"field":"t2"},"y":{"field":"y","type":"quantitative","scale":{"domain":[-20,20],"reverse":true,"nice":false,"zero":false},"axis":{"values":[-20,0,20],"labels":false,"title":null}}}},
{"transform":[{"filter":"!datum.m"}],"mark":{"type":"line","strokeWidth":4,"strokeCap":"round","strokeJoin":"round"},"encoding":{"x":{"field":"t","type":"quantitative"},"y":{"field":"y","type":"quantitative"},"color":{"field":"s","type":"nominal","scale":{"domain":[1,2,3,4,5,6,7],"range":["#111111","#66bb44","#a64dbf","#e8232b","#2e3a9a","#5ec4e0","#f5821f"]},"legend":null},"detail":{"field":"g"}}},
{"transform":[{"filter":"datum.m"}],"mark":{"type":"point","filled":false,"size":25,"strokeWidth":1.2,"opacity":1},"encoding":{"x":{"field":"t","type":"quantitative"},"y":{"field":"y","type":"quantitative"},"color":{"field":"s","type":"nominal","scale":{"domain":[1,2,3,4,5,6,7],"range":["#111111","#66bb44","#a64dbf","#e8232b","#2e3a9a","#5ec4e0","#f5821f"]},"legend":null},"shape":{"field":"m","type":"nominal","scale":{"domain":["p","o"],"range":["M-1,0L1,0M0,-1L0,1","circle"]},"legend":null}}},
{"data":{"values":[{}]},"mark":{"type":"text","align":"right","baseline":"middle","fontSize":18,"color":"#333"},"encoding":{"x":{"datum":4.83},"y":{"datum":-14.5},"text":{"value":"EyeTribe"}}}
]},
{"width":495,"height":145,
"data":{"values":[
{"s":1,"t":0,"y":-0.5},{"s":1,"t":1.9,"y":-0.5},{"s":1,"t":1.95,"y":-2.5},{"s":1,"t":2.5,"y":-2.8},{"s":1,"t":3,"y":-2.9},{"s":1,"t":3.35,"y":-2.6},{"s":1,"t":3.42,"y":-1},{"s":1,"t":5,"y":-0.5},
{"s":2,"t":0,"y":-2.2},{"s":2,"t":3.4,"y":-2},{"s":2,"t":3.5,"y":-3.5},{"s":2,"t":3.6,"y":-3.8},{"s":2,"t":3.7,"y":-2.5},{"s":2,"t":3.8,"y":-2},{"s":2,"t":5,"y":-2},
{"s":3,"t":0,"y":-1},{"s":3,"t":5,"y":-1},
{"s":4,"t":0,"y":-0.5},{"s":4,"t":1.45,"y":-0.5},{"s":4,"t":1.5,"y":0.4},{"s":4,"t":1.85,"y":0.5},{"s":4,"t":1.9,"y":-0.3},{"s":4,"t":2.05,"y":0.5},{"s":4,"t":3.4,"y":0.7},{"s":4,"t":3.45,"y":-0.5},{"s":4,"t":5,"y":-0.5},
{"s":5,"t":0,"y":-1.5},{"s":5,"t":5,"y":-1.5},
{"s":6,"t":0,"y":-1.3},{"s":6,"t":1.55,"y":-1.3},{"s":6,"t":1.65,"y":-2.2},{"s":6,"t":1.8,"y":-1.2},{"s":6,"t":3.5,"y":-1.2},{"s":6,"t":3.6,"y":0.5},{"s":6,"t":3.8,"y":0.5},{"s":6,"t":4.1,"y":-0.5},{"s":6,"t":5,"y":-1.3},
{"s":7,"t":0,"y":-0.8},{"s":7,"t":1.6,"y":-0.8},{"s":7,"t":1.8,"y":0.2},{"s":7,"t":1.9,"y":0.8},{"s":7,"t":2,"y":-0.5},{"s":7,"t":3.4,"y":-0.8},{"s":7,"t":3.5,"y":-2},{"s":7,"t":3.7,"y":-2.5},{"s":7,"t":3.85,"y":-1.5},{"s":7,"t":5,"y":-1},
{"s":1,"t":3.9,"y":1.2,"m":"o"},{"s":1,"t":4.05,"y":1.5,"m":"o"},{"s":1,"t":4.15,"y":1.8,"m":"o"},{"s":1,"t":4.25,"y":1.2,"m":"o"},{"s":1,"t":4.4,"y":1.5,"m":"o"},{"s":1,"t":4.55,"y":1,"m":"o"},{"s":1,"t":4.9,"y":1.2,"m":"o"},{"s":1,"t":1.6,"y":-1.5,"m":"p"},
{"s":2,"t":3.5,"y":-4,"m":"o"},{"s":2,"t":3.6,"y":-4.2,"m":"o"},{"s":2,"t":4.45,"y":1.5,"m":"o"},{"s":6,"t":3.9,"y":1,"m":"o"},{"s":7,"t":3.55,"y":1,"m":"o"}
]},
"layer":[
{"data":{"values":[{"t":1},{"t":3}]},"mark":{"type":"rule","color":"#808080","strokeWidth":1.6},"encoding":{"x":{"field":"t","type":"quantitative","scale":{"domain":[0,5],"nice":false,"zero":false},"axis":{"values":[0,1,2,3,4,5],"labels":false,"title":null}}}},
{"data":{"values":[{"t":0,"t2":5,"y":-9.6},{"t":0,"t2":5,"y":9.6}]},"mark":{"type":"rule","color":"#555","strokeWidth":1.2,"strokeDash":[6,4]},"encoding":{"x":{"field":"t","type":"quantitative"},"x2":{"field":"t2"},"y":{"field":"y","type":"quantitative","scale":{"domain":[-20,20],"reverse":true,"nice":false,"zero":false},"axis":{"values":[-20,0,20],"title":"vertical gaze position (cm)","titleFontSize":25,"titlePadding":14,"titleY":92}}}},
{"transform":[{"filter":"!datum.m"}],"mark":{"type":"line","strokeWidth":4,"strokeCap":"round","strokeJoin":"round"},"encoding":{"x":{"field":"t","type":"quantitative"},"y":{"field":"y","type":"quantitative"},"color":{"field":"s","type":"nominal","scale":{"domain":[1,2,3,4,5,6,7],"range":["#111111","#66bb44","#a64dbf","#e8232b","#2e3a9a","#5ec4e0","#f5821f"]},"legend":null},"detail":{"field":"g"}}},
{"transform":[{"filter":"datum.m"}],"mark":{"type":"point","filled":false,"size":25,"strokeWidth":1.2,"opacity":1},"encoding":{"x":{"field":"t","type":"quantitative"},"y":{"field":"y","type":"quantitative"},"color":{"field":"s","type":"nominal","scale":{"domain":[1,2,3,4,5,6,7],"range":["#111111","#66bb44","#a64dbf","#e8232b","#2e3a9a","#5ec4e0","#f5821f"]},"legend":null},"shape":{"field":"m","type":"nominal","scale":{"domain":["p","o"],"range":["M-1,0L1,0M0,-1L0,1","circle"]},"legend":null}}},
{"data":{"values":[{}]},"mark":{"type":"text","align":"right","baseline":"middle","fontSize":18,"color":"#333"},"encoding":{"x":{"datum":4.83},"y":{"datum":-15},"text":{"value":"REDn"}}}
]},
{"width":495,"height":145,
"data":{"values":[
{"s":1,"t":0,"y":0},{"s":1,"t":1.8,"y":0},{"s":1,"t":1.9,"y":-0.8},{"s":1,"t":3.6,"y":-0.5},{"s":1,"t":4,"y":0.3},{"s":1,"t":4.1,"y":1},{"s":1,"t":4.3,"y":0.8},{"s":1,"t":4.4,"y":0},{"s":1,"t":5,"y":0},
{"s":3,"t":0,"y":-0.6},{"s":3,"t":1.5,"y":-0.6},{"s":3,"t":1.65,"y":-2},{"s":3,"t":1.8,"y":-3.2},{"s":3,"t":2.1,"y":-3.5},{"s":3,"t":3.6,"y":-3.3},{"s":3,"t":3.7,"y":-1.5},{"s":3,"t":3.8,"y":0.3},{"s":3,"t":5,"y":0},
{"s":4,"t":0,"y":0.5},{"s":4,"t":1.8,"y":0.2},{"s":4,"t":2.2,"y":-0.8},{"s":4,"t":3.4,"y":-0.8},{"s":4,"t":3.6,"y":0},{"s":4,"t":5,"y":0.2},
{"s":5,"t":0,"y":-0.2},{"s":5,"t":2.1,"y":-0.4},{"s":5,"t":2.15,"y":-3.8},{"s":5,"t":3.6,"y":-3.9},{"s":5,"t":3.7,"y":-2.5},{"s":5,"t":3.75,"y":-0.5},{"s":5,"t":5,"y":-0.3},
{"s":6,"t":0,"y":-0.3},{"s":6,"t":1.7,"y":-0.3},{"s":6,"t":1.85,"y":1.3},{"s":6,"t":3.2,"y":1.4},{"s":6,"t":3.4,"y":0.5},{"s":6,"t":3.6,"y":0},{"s":6,"t":5,"y":0},
{"s":7,"t":0,"y":-1.3},{"s":7,"t":0.5,"y":-1.6},{"s":7,"t":0.8,"y":-2},{"s":7,"t":1,"y":-1.5},{"s":7,"t":1.5,"y":-1},{"s":7,"t":1.65,"y":-2},{"s":7,"t":2,"y":-2.2},{"s":7,"t":2.1,"y":-1},{"s":7,"t":2.3,"y":0},{"s":7,"t":2.6,"y":0.8},{"s":7,"t":2.8,"y":2},{"s":7,"t":2.9,"y":0.8},{"s":7,"t":3,"y":1.5},{"s":7,"t":3.2,"y":0.5},{"s":7,"t":3.4,"y":0.8},{"s":7,"t":3.5,"y":-1},{"s":7,"t":3.7,"y":-1.8},{"s":7,"t":4,"y":-1.5},{"s":7,"t":4.3,"y":-2},{"s":7,"t":4.6,"y":-1.6},{"s":7,"t":5,"y":-1.3},
{"s":7,"t":2.75,"y":2.6,"m":"o"},{"s":7,"t":2.78,"y":3,"m":"o"},{"s":7,"t":2.95,"y":2.2,"m":"o"},{"s":7,"t":3.05,"y":2.6,"m":"o"},{"s":7,"t":3.15,"y":2,"m":"o"},{"s":7,"t":2.5,"y":1.5,"m":"o"},{"s":7,"t":3.3,"y":1.5,"m":"o"}
]},
"layer":[
{"data":{"values":[{"t":1},{"t":3}]},"mark":{"type":"rule","color":"#808080","strokeWidth":1.6},"encoding":{"x":{"field":"t","type":"quantitative","scale":{"domain":[0,5],"nice":false,"zero":false},"axis":{"values":[0,1,2,3,4,5],"labels":false,"title":null}}}},
{"data":{"values":[{"t":0,"t2":5,"y":-9.6},{"t":0,"t2":5,"y":9.6}]},"mark":{"type":"rule","color":"#555","strokeWidth":1.2,"strokeDash":[6,4]},"encoding":{"x":{"field":"t","type":"quantitative"},"x2":{"field":"t2"},"y":{"field":"y","type":"quantitative","scale":{"domain":[-20,20],"reverse":true,"nice":false,"zero":false},"axis":{"values":[-20,0,20],"labels":false,"title":null}}}},
{"transform":[{"filter":"!datum.m"}],"mark":{"type":"line","strokeWidth":4,"strokeCap":"round","strokeJoin":"round"},"encoding":{"x":{"field":"t","type":"quantitative"},"y":{"field":"y","type":"quantitative"},"color":{"field":"s","type":"nominal","scale":{"domain":[1,2,3,4,5,6,7],"range":["#111111","#66bb44","#a64dbf","#e8232b","#2e3a9a","#5ec4e0","#f5821f"]},"legend":null},"detail":{"field":"g"}}},
{"transform":[{"filter":"datum.m"}],"mark":{"type":"point","filled":false,"size":25,"strokeWidth":1.2,"opacity":1},"encoding":{"x":{"field":"t","type":"quantitative"},"y":{"field":"y","type":"quantitative"},"color":{"field":"s","type":"nominal","scale":{"domain":[1,2,3,4,5,6,7],"range":["#111111","#66bb44","#a64dbf","#e8232b","#2e3a9a","#5ec4e0","#f5821f"]},"legend":null},"shape":{"field":"m","type":"nominal","scale":{"domain":["p","o"],"range":["M-1,0L1,0M0,-1L0,1","circle"]},"legend":null}}},
{"data":{"values":[{}]},"mark":{"type":"text","align":"right","baseline":"middle","fontSize":18,"color":"#333"},"encoding":{"x":{"datum":4.83},"y":{"datum":-15},"text":{"value":"REDn"}}}
]},
{"width":495,"height":145,
"data":{"values":[
{"s":1,"t":0,"y":0.5},{"s":1,"t":1.35,"y":0.5},{"s":1,"t":1.45,"y":1.6},{"s":1,"t":1.8,"y":1.8},{"s":1,"t":1.95,"y":2.5},{"s":1,"t":2.1,"y":2},{"s":1,"t":2.3,"y":1.7},{"s":1,"t":3,"y":1.7},{"s":1,"t":3.4,"y":1.6},{"s":1,"t":3.45,"y":2.7},{"s":1,"t":3.5,"y":1.5},{"s":1,"t":3.9,"y":1},{"s":1,"t":5,"y":0.8},
{"s":2,"t":0,"y":0},{"s":2,"t":5,"y":0},
{"s":3,"t":0,"y":0.3},{"s":3,"t":4.1,"y":0.3},{"s":3,"t":4.15,"y":2.7},{"s":3,"t":4.4,"y":2.8},{"s":3,"t":4.45,"y":5},{"s":3,"t":4.75,"y":5},{"s":3,"t":4.8,"y":4},{"s":3,"t":4.95,"y":3},{"s":3,"t":5,"y":2.5},
{"s":4,"t":0,"y":0.8},{"s":4,"t":1.45,"y":0.9},{"s":4,"t":1.88,"y":3.5},{"s":4,"t":1.9,"y":4.1},{"s":4,"t":2.1,"y":4.1},{"s":4,"t":2.12,"y":4.8},{"s":4,"t":2.9,"y":4.8},{"s":4,"t":3.2,"y":5},{"s":4,"t":3.22,"y":6},{"s":4,"t":3.38,"y":6},{"s":4,"t":3.42,"y":3.5},{"s":4,"t":3.5,"y":1.5},{"s":4,"t":3.55,"y":0.8},{"s":4,"t":5,"y":0.8},
{"s":5,"t":0,"y":0.3},{"s":5,"t":5,"y":0.3},
{"s":6,"t":0,"y":-1.1},{"s":6,"t":1.45,"y":-1.1},{"s":6,"t":1.6,"y":-1.3},{"s":6,"t":1.68,"y":-2.2},{"s":6,"t":1.75,"y":-1.2},{"s":6,"t":3.6,"y":-1.1},{"s":6,"t":3.7,"y":-1.8},{"s":6,"t":3.8,"y":-1.2},{"s":6,"t":5,"y":-1.1},
{"s":7,"t":0,"y":0.5},{"s":7,"t":1.7,"y":0.5},{"s":7,"t":1.8,"y":1.8},{"s":7,"t":2,"y":2.3},{"s":7,"t":2.2,"y":1.5},{"s":7,"t":2.3,"y":0.5},{"s":7,"t":4.15,"y":0.5},{"s":7,"t":4.25,"y":-0.8},{"s":7,"t":4.45,"y":-0.8},{"s":7,"t":4.55,"y":0.5},{"s":7,"t":5,"y":0.5},
{"s":4,"t":1.48,"y":4,"m":"p"},{"s":4,"t":1.5,"y":5.5,"m":"p"},{"s":4,"t":1.55,"y":3.5,"m":"p"},{"s":4,"t":1.6,"y":3.2,"m":"p"},{"s":4,"t":1.65,"y":6,"m":"p"},{"s":4,"t":1.7,"y":7.5,"m":"p"},{"s":4,"t":1.75,"y":9,"m":"p"},{"s":4,"t":1.78,"y":8.5,"m":"p"},{"s":4,"t":1.8,"y":8,"m":"p"},{"s":4,"t":1.85,"y":6,"m":"p"},{"s":4,"t":1.87,"y":4.5,"m":"p"},{"s":4,"t":3.48,"y":4,"m":"p"},{"s":4,"t":3.52,"y":5.5,"m":"p"},{"s":4,"t":4.75,"y":-2,"m":"p"}
]},
"layer":[
{"data":{"values":[{"t":1},{"t":3}]},"mark":{"type":"rule","color":"#808080","strokeWidth":1.6},"encoding":{"x":{"field":"t","type":"quantitative","scale":{"domain":[0,5],"nice":false,"zero":false},"axis":{"values":[0,1,2,3,4,5],"labels":false,"title":null}}}},
{"data":{"values":[{"t":0,"t2":4.22,"y":-16.4},{"t":4.92,"t2":5,"y":-16.4},{"t":0,"t2":5,"y":16.4}]},"mark":{"type":"rule","color":"#555","strokeWidth":1.2,"strokeDash":[6,4]},"encoding":{"x":{"field":"t","type":"quantitative"},"x2":{"field":"t2"},"y":{"field":"y","type":"quantitative","scale":{"domain":[-20,20],"reverse":true,"nice":false,"zero":false},"axis":{"values":[-20,0,20],"title":null}}}},
{"transform":[{"filter":"!datum.m"}],"mark":{"type":"line","strokeWidth":4,"strokeCap":"round","strokeJoin":"round"},"encoding":{"x":{"field":"t","type":"quantitative"},"y":{"field":"y","type":"quantitative"},"color":{"field":"s","type":"nominal","scale":{"domain":[1,2,3,4,5,6,7],"range":["#111111","#66bb44","#a64dbf","#e8232b","#2e3a9a","#5ec4e0","#f5821f"]},"legend":null},"detail":{"field":"g"}}},
{"transform":[{"filter":"datum.m"}],"mark":{"type":"point","filled":false,"size":25,"strokeWidth":1.2,"opacity":1},"encoding":{"x":{"field":"t","type":"quantitative"},"y":{"field":"y","type":"quantitative"},"color":{"field":"s","type":"nominal","scale":{"domain":[1,2,3,4,5,6,7],"range":["#111111","#66bb44","#a64dbf","#e8232b","#2e3a9a","#5ec4e0","#f5821f"]},"legend":null},"shape":{"field":"m","type":"nominal","scale":{"domain":["p","o"],"range":["M-1,0L1,0M0,-1L0,1","circle"]},"legend":null}}},
{"data":{"values":[{}]},"mark":{"type":"text","align":"right","baseline":"middle","fontSize":18,"color":"#333"},"encoding":{"x":{"datum":4.83},"y":{"datum":-16.4},"text":{"value":"T60XL"}}}
]},
{"width":495,"height":145,
"data":{"values":[
{"s":1,"t":0,"y":0.5},{"s":1,"t":1.6,"y":0.5},{"s":1,"t":1.8,"y":1.5},{"s":1,"t":3.3,"y":1.6},{"s":1,"t":3.32,"y":-1.8},{"s":1,"t":3.36,"y":1},{"s":1,"t":3.5,"y":1},{"s":1,"t":3.6,"y":0.5},{"s":1,"t":5,"y":0.5},
{"s":3,"t":0,"y":0},{"s":3,"t":1.8,"y":0},{"s":3,"t":1.85,"y":-2.3},{"s":3,"t":3.3,"y":-2.3},{"s":3,"t":3.35,"y":0},{"s":3,"t":5,"y":0},
{"s":4,"t":0,"y":0.2},{"s":4,"t":1.75,"y":0.2},{"s":4,"t":1.8,"y":-2.5},{"s":4,"t":1.85,"y":-3.3},{"s":4,"t":3.2,"y":-3.3},{"s":4,"t":3.3,"y":-2.8},{"s":4,"t":3.35,"y":0},{"s":4,"t":5,"y":0.2},
{"s":5,"t":0,"y":0.5},{"s":5,"t":2,"y":0.5},{"s":5,"t":2.1,"y":2.2},{"s":5,"t":3.1,"y":2.2},{"s":5,"t":3.2,"y":0.5},{"s":5,"t":5,"y":0.5},
{"s":6,"t":0,"y":-1.1},{"s":6,"t":0.95,"y":-1.1},{"s":6,"t":1.05,"y":-1.9},{"s":6,"t":1.3,"y":-1.7},{"s":6,"t":1.4,"y":-1.1},{"s":6,"t":1.85,"y":-1.1},{"s":6,"t":1.9,"y":-1.6},{"s":6,"t":3.3,"y":-1.5},{"s":6,"t":3.4,"y":-1.2},{"s":6,"t":3.5,"y":-1.8},{"s":6,"t":3.7,"y":-1.3},{"s":6,"t":5,"y":-1.1},
{"s":7,"t":0,"y":1},{"s":7,"t":1.6,"y":1},{"s":7,"t":1.8,"y":1.3},{"s":7,"t":2.5,"y":1.5},{"s":7,"t":3.3,"y":1.3},{"s":7,"t":3.6,"y":1},{"s":7,"t":4.6,"y":1.2},{"s":7,"t":4.9,"y":1.5},{"s":7,"t":4.95,"y":3},{"s":7,"t":5,"y":1.5},
{"s":6,"t":3.45,"y":-4,"m":"o"},{"s":6,"t":3.5,"y":-3,"m":"o"},{"s":6,"t":3.65,"y":-2.2,"m":"o"},
{"s":7,"t":1.7,"y":1.8,"m":"o"},{"s":7,"t":2.2,"y":2.2,"m":"o"},{"s":7,"t":2.6,"y":2.1,"m":"o"},{"s":7,"t":3,"y":2.2,"m":"o"},{"s":7,"t":4.1,"y":2,"m":"o"},{"s":7,"t":4.5,"y":2.3,"m":"o"},
{"s":1,"t":2.5,"y":2,"m":"p"},{"s":1,"t":2.8,"y":2.2,"m":"p"},{"s":1,"t":2.2,"y":2.4,"m":"p"}
]},
"layer":[
{"data":{"values":[{"t":1},{"t":3}]},"mark":{"type":"rule","color":"#808080","strokeWidth":1.6},"encoding":{"x":{"field":"t","type":"quantitative","scale":{"domain":[0,5],"nice":false,"zero":false},"axis":{"values":[0,1,2,3,4,5],"labels":false,"title":null}}}},
{"data":{"values":[{"t":0,"t2":4.22,"y":-16.4},{"t":4.92,"t2":5,"y":-16.4},{"t":0,"t2":5,"y":16.4}]},"mark":{"type":"rule","color":"#555","strokeWidth":1.2,"strokeDash":[6,4]},"encoding":{"x":{"field":"t","type":"quantitative"},"x2":{"field":"t2"},"y":{"field":"y","type":"quantitative","scale":{"domain":[-20,20],"reverse":true,"nice":false,"zero":false},"axis":{"values":[-20,0,20],"labels":false,"title":null}}}},
{"transform":[{"filter":"!datum.m"}],"mark":{"type":"line","strokeWidth":4,"strokeCap":"round","strokeJoin":"round"},"encoding":{"x":{"field":"t","type":"quantitative"},"y":{"field":"y","type":"quantitative"},"color":{"field":"s","type":"nominal","scale":{"domain":[1,2,3,4,5,6,7],"range":["#111111","#66bb44","#a64dbf","#e8232b","#2e3a9a","#5ec4e0","#f5821f"]},"legend":null},"detail":{"field":"g"}}},
{"transform":[{"filter":"datum.m"}],"mark":{"type":"point","filled":false,"size":25,"strokeWidth":1.2,"opacity":1},"encoding":{"x":{"field":"t","type":"quantitative"},"y":{"field":"y","type":"quantitative"},"color":{"field":"s","type":"nominal","scale":{"domain":[1,2,3,4,5,6,7],"range":["#111111","#66bb44","#a64dbf","#e8232b","#2e3a9a","#5ec4e0","#f5821f"]},"legend":null},"shape":{"field":"m","type":"nominal","scale":{"domain":["p","o"],"range":["M-1,0L1,0M0,-1L0,1","circle"]},"legend":null}}},
{"data":{"values":[{}]},"mark":{"type":"text","align":"right","baseline":"middle","fontSize":18,"color":"#333"},"encoding":{"x":{"datum":4.83},"y":{"datum":-16.4},"text":{"value":"T60XL"}}}
]},
{"width":495,"height":145,
"data":{"values":[
{"s":1,"t":0,"y":0.9},{"s":1,"t":1.25,"y":0.9},{"s":1,"t":1.35,"y":1.6},{"s":1,"t":1.55,"y":1.8},{"s":1,"t":1.7,"y":1},{"s":1,"t":2.6,"y":1},{"s":1,"t":2.62,"y":2.8},{"s":1,"t":2.65,"y":1},{"s":1,"t":3.75,"y":1},{"s":1,"t":3.8,"y":1.9},{"s":1,"t":3.85,"y":1},{"s":1,"t":4.7,"y":1},{"s":1,"t":4.75,"y":2.2},{"s":1,"t":4.8,"y":1},{"s":1,"t":5,"y":1},
{"s":3,"t":0,"y":-0.3},{"s":3,"t":1.2,"y":-0.3},{"s":3,"t":1.27,"y":1.8},{"s":3,"t":1.35,"y":1.9},{"s":3,"t":1.4,"y":0},{"s":3,"t":1.85,"y":-0.5},{"s":3,"t":1.88,"y":-3},{"s":3,"t":2,"y":-2.7},{"s":3,"t":2.5,"y":-2.8},{"s":3,"t":3,"y":-2.7},{"s":3,"t":3.1,"y":-1},{"s":3,"t":3.2,"y":0},{"s":3,"t":5,"y":-0.3},
{"s":4,"t":0,"y":0},{"s":4,"t":1.7,"y":0},{"s":4,"t":1.75,"y":2.2},{"s":4,"t":1.8,"y":3.5},{"s":4,"t":2,"y":3.7},{"s":4,"t":2.5,"y":3.9},{"s":4,"t":3,"y":3.8},{"s":4,"t":3.3,"y":4.1},{"s":4,"t":3.35,"y":3.6},{"s":4,"t":3.37,"y":0},{"s":4,"t":5,"y":0},
{"s":6,"t":0,"y":-2.3},{"s":6,"t":1.72,"y":-2.4},{"s":6,"t":1.76,"y":-0.5},{"s":6,"t":2,"y":-0.3},{"s":6,"t":2.05,"y":-1.4},{"s":6,"t":3.4,"y":-1.4},{"s":6,"t":3.45,"y":-2.6},{"s":6,"t":3.65,"y":-2.6},{"s":6,"t":3.68,"y":-2},{"s":6,"t":5,"y":-2.1},
{"s":7,"t":0,"y":-0.4},{"s":7,"t":1.75,"y":-0.4},{"s":7,"t":1.8,"y":-0.9},{"s":7,"t":2.05,"y":-0.9},{"s":7,"t":2.1,"y":-0.3},{"s":7,"t":3.7,"y":-0.3},{"s":7,"t":3.75,"y":-0.9},{"s":7,"t":5,"y":-0.6},
{"s":7,"g":"b","t":0,"y":0.3},{"s":7,"g":"b","t":5,"y":0.1},
{"s":3,"t":2.72,"y":2.4,"m":"p"},{"s":3,"t":2.76,"y":2.2,"m":"p"},{"s":3,"t":2.8,"y":2.4,"m":"p"},{"s":3,"t":2.84,"y":2.3,"m":"p"},{"s":3,"t":2.88,"y":2.5,"m":"p"},{"s":3,"t":1.85,"y":-3.5,"m":"p"}
]},
"layer":[
{"data":{"values":[{"t":1},{"t":3}]},"mark":{"type":"rule","color":"#808080","strokeWidth":1.6},"encoding":{"x":{"field":"t","type":"quantitative","scale":{"domain":[0,5],"nice":false,"zero":false},"axis":{"values":[0,1,2,3,4,5],"format":"d","title":"time (s)","titleFontSize":27,"titlePadding":16}}}},
{"data":{"values":[{"t":0,"t2":4.22,"y":-14},{"t":4.92,"t2":5,"y":-14},{"t":0,"t2":5,"y":14}]},"mark":{"type":"rule","color":"#555","strokeWidth":1.2,"strokeDash":[6,4]},"encoding":{"x":{"field":"t","type":"quantitative"},"x2":{"field":"t2"},"y":{"field":"y","type":"quantitative","scale":{"domain":[-20,20],"reverse":true,"nice":false,"zero":false},"axis":{"values":[-20,0,20],"title":null}}}},
{"transform":[{"filter":"!datum.m"}],"mark":{"type":"line","strokeWidth":4,"strokeCap":"round","strokeJoin":"round"},"encoding":{"x":{"field":"t","type":"quantitative"},"y":{"field":"y","type":"quantitative"},"color":{"field":"s","type":"nominal","scale":{"domain":[1,2,3,4,5,6,7],"range":["#111111","#66bb44","#a64dbf","#e8232b","#2e3a9a","#5ec4e0","#f5821f"]},"legend":null},"detail":{"field":"g"}}},
{"transform":[{"filter":"datum.m"}],"mark":{"type":"point","filled":false,"size":25,"strokeWidth":1.2,"opacity":1},"encoding":{"x":{"field":"t","type":"quantitative"},"y":{"field":"y","type":"quantitative"},"color":{"field":"s","type":"nominal","scale":{"domain":[1,2,3,4,5,6,7],"range":["#111111","#66bb44","#a64dbf","#e8232b","#2e3a9a","#5ec4e0","#f5821f"]},"legend":null},"shape":{"field":"m","type":"nominal","scale":{"domain":["p","o"],"range":["M-1,0L1,0M0,-1L0,1","circle"]},"legend":null}}},
{"data":{"values":[{}]},"mark":{"type":"text","align":"right","baseline":"middle","fontSize":18,"color":"#333"},"encoding":{"x":{"datum":4.83},"y":{"datum":-14},"text":{"value":"TX300"}}},
{"data":{"values":[{}]},"mark":{"type":"rect","fill":"white","stroke":"#333","strokeWidth":1.2},"encoding":{"x":{"datum":1.51},"x2":{"datum":4.78},"y":{"datum":10.5},"y2":{"datum":17.5}}},
{"data":{"values":[{}]},"mark":{"type":"text","align":"center","baseline":"middle","fontSize":19,"color":"#333"},"encoding":{"x":{"datum":3.145},"y":{"datum":14},"text":{"value":"+: upward trials, o: downward trials"}}}
]},
{"width":495,"height":145,
"data":{"values":[
{"s":1,"t":0,"y":1.2},{"s":1,"t":1.4,"y":1.2},{"s":1,"t":1.6,"y":0.5},{"s":1,"t":3.3,"y":0.2},{"s":1,"t":3.45,"y":1.2},{"s":1,"t":3.7,"y":1.4},{"s":1,"t":3.95,"y":1.5},{"s":1,"t":4.05,"y":2.5},{"s":1,"t":4.5,"y":2},{"s":1,"t":4.55,"y":1.2},{"s":1,"t":5,"y":1.2},
{"s":3,"t":0,"y":-0.3},{"s":3,"t":1.6,"y":-0.3},{"s":3,"t":1.65,"y":-2.7},{"s":3,"t":1.85,"y":-3.7},{"s":3,"t":2.5,"y":-3.7},{"s":3,"t":3.3,"y":-3.6},{"s":3,"t":3.45,"y":-1.5},{"s":3,"t":3.55,"y":-0.3},{"s":3,"t":3.9,"y":1.8},{"s":3,"t":4.25,"y":1.8},{"s":3,"t":4.35,"y":0},{"s":3,"t":5,"y":-0.3},
{"s":4,"t":0,"y":0},{"s":4,"t":5,"y":0},
{"s":5,"t":0,"y":0},{"s":5,"t":1.85,"y":0},{"s":5,"t":1.9,"y":-4.3},{"s":5,"t":2.5,"y":-4.6},{"s":5,"t":3.35,"y":-4.6},{"s":5,"t":3.45,"y":-3.6},{"s":5,"t":3.55,"y":-0.5},{"s":5,"t":5,"y":0},
{"s":6,"t":0,"y":-2.1},{"s":6,"t":1.65,"y":-2.1},{"s":6,"t":1.75,"y":-1.4},{"s":6,"t":2.05,"y":-0.5},{"s":6,"t":2.1,"y":1.5},{"s":6,"t":2.55,"y":1.5},{"s":6,"t":2.6,"y":-0.5},{"s":6,"t":3.5,"y":-0.8},{"s":6,"t":3.6,"y":-2},{"s":6,"t":5,"y":-2.1},
{"s":7,"t":0,"y":-0.3},{"s":7,"t":1.4,"y":-0.3},{"s":7,"t":1.6,"y":0.3},{"s":7,"t":1.9,"y":-0.5},{"s":7,"t":2.2,"y":-1.5},{"s":7,"t":2.5,"y":-1.8},{"s":7,"t":3,"y":-2},{"s":7,"t":3.3,"y":-1.8},{"s":7,"t":3.5,"y":-1.2},{"s":7,"t":3.7,"y":-0.3},{"s":7,"t":5,"y":-0.3},
{"s":7,"g":"b","t":1.6,"y":0.5},{"s":7,"g":"b","t":1.9,"y":0.3},{"s":7,"g":"b","t":2.5,"y":0},{"s":7,"g":"b","t":3.3,"y":-0.3},{"s":7,"g":"b","t":3.5,"y":0.3},
{"s":4,"t":3.35,"y":-6.5,"m":"p"}
]},
"layer":[
{"data":{"values":[{"t":1},{"t":3}]},"mark":{"type":"rule","color":"#808080","strokeWidth":1.6},"encoding":{"x":{"field":"t","type":"quantitative","scale":{"domain":[0,5],"nice":false,"zero":false},"axis":{"values":[0,1,2,3,4,5],"format":"d","title":"time (s)","titleFontSize":27,"titlePadding":16}}}},
{"data":{"values":[{"t":0,"t2":4.22,"y":-14},{"t":4.92,"t2":5,"y":-14},{"t":0,"t2":5,"y":14}]},"mark":{"type":"rule","color":"#555","strokeWidth":1.2,"strokeDash":[6,4]},"encoding":{"x":{"field":"t","type":"quantitative"},"x2":{"field":"t2"},"y":{"field":"y","type":"quantitative","scale":{"domain":[-20,20],"reverse":true,"nice":false,"zero":false},"axis":{"values":[-20,0,20],"labels":false,"title":null}}}},
{"transform":[{"filter":"!datum.m"}],"mark":{"type":"line","strokeWidth":4,"strokeCap":"round","strokeJoin":"round"},"encoding":{"x":{"field":"t","type":"quantitative"},"y":{"field":"y","type":"quantitative"},"color":{"field":"s","type":"nominal","scale":{"domain":[1,2,3,4,5,6,7],"range":["#111111","#66bb44","#a64dbf","#e8232b","#2e3a9a","#5ec4e0","#f5821f"]},"legend":null},"detail":{"field":"g"}}},
{"transform":[{"filter":"datum.m"}],"mark":{"type":"point","filled":false,"size":25,"strokeWidth":1.2,"opacity":1},"encoding":{"x":{"field":"t","type":"quantitative"},"y":{"field":"y","type":"quantitative"},"color":{"field":"s","type":"nominal","scale":{"domain":[1,2,3,4,5,6,7],"range":["#111111","#66bb44","#a64dbf","#e8232b","#2e3a9a","#5ec4e0","#f5821f"]},"legend":null},"shape":{"field":"m","type":"nominal","scale":{"domain":["p","o"],"range":["M-1,0L1,0M0,-1L0,1","circle"]},"legend":null}}},
{"data":{"values":[{}]},"mark":{"type":"text","align":"right","baseline":"middle","fontSize":18,"color":"#333"},"encoding":{"x":{"datum":4.83},"y":{"datum":-14},"text":{"value":"TX300"}}},
{"data":{"values":[{}]},"mark":{"type":"rect","fill":"white","stroke":"#333","strokeWidth":1.2},"encoding":{"x":{"datum":1.52},"x2":{"datum":4.8},"y":{"datum":10.5},"y2":{"datum":17.5}}},
{"data":{"values":[{}]},"mark":{"type":"text","align":"center","baseline":"middle","fontSize":19,"color":"#333"},"encoding":{"x":{"datum":3.16},"y":{"datum":14},"text":{"value":"+: leftward trials, o: rightward trials"}}}
]}
]}
